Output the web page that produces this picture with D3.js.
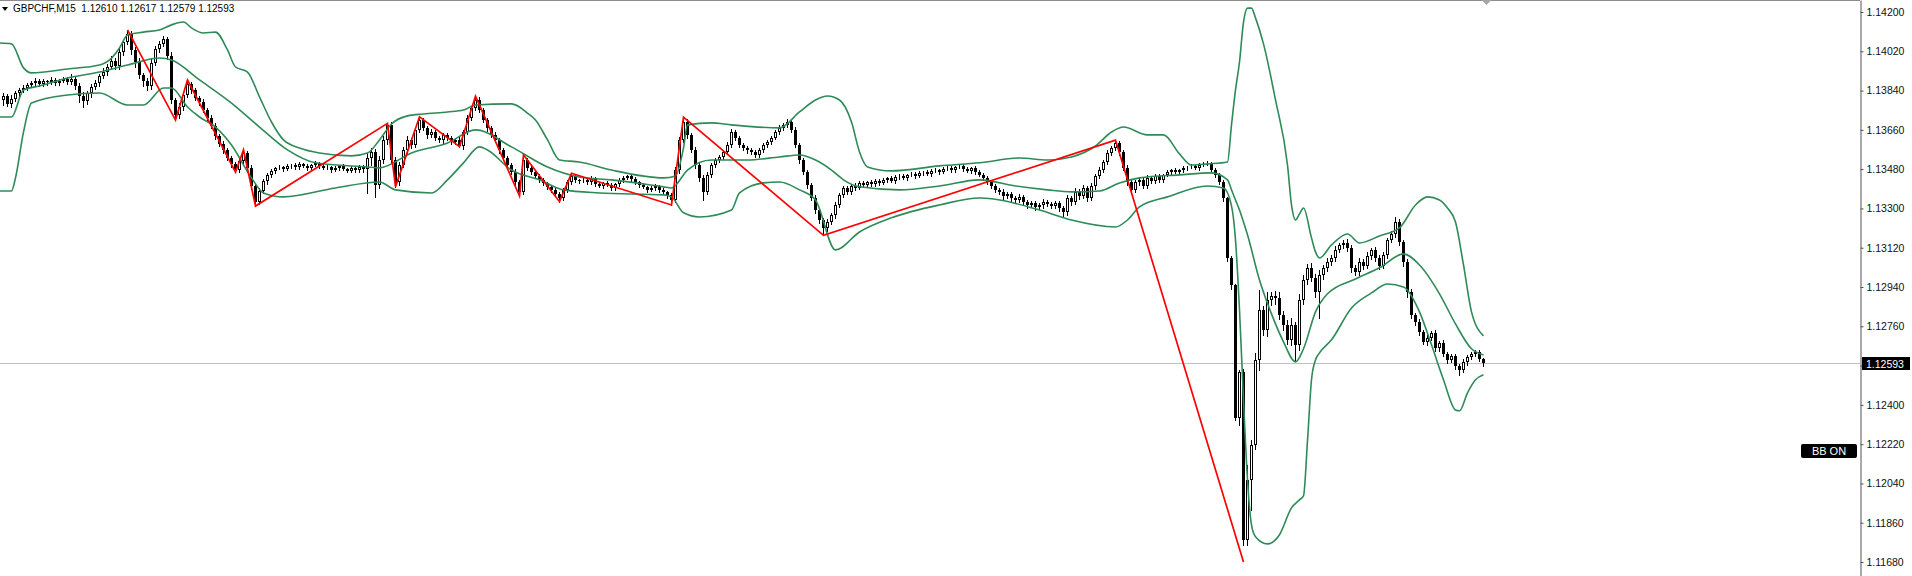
<!DOCTYPE html>
<html>
<head>
<meta charset="utf-8">
<script src="https://cdn.jsdelivr.net/npm/d3@7"></script>
<style>
  html, body { margin: 0; padding: 0; background: #fff; overflow: hidden; }
  svg { display: block; }
  text { font-family: 'Liberation Sans', Arial, sans-serif; }
</style>
</head>
<body>
<script>
// GBPCHF M15 candles, oldest first (open of a bar = close of the one before)
const symbolTitle = 'GBPCHF,M15'
const lastQuote = ['1.12610', '1.12617', '1.12579', '1.12593']
const firstOpen = 1.13790

const closes = [
  1.13797, 1.13815, 1.13779, 1.13802, 1.13829, 1.13843, 1.13852, 1.13866, 1.13875, 1.13884,
  1.13870, 1.13884, 1.13879, 1.13889, 1.13875, 1.13884, 1.13893, 1.13879, 1.13893, 1.13861,
  1.13815, 1.13792, 1.13829, 1.13857, 1.13875, 1.13907, 1.13925, 1.13948, 1.13976, 1.13953,
  1.14017, 1.14063, 1.14099, 1.14026, 1.13971, 1.13912, 1.13884, 1.13861, 1.13967, 1.14031,
  1.14054, 1.14076, 1.13999, 1.13797, 1.13728, 1.13765, 1.13820, 1.13870, 1.13843, 1.13806,
  1.13788, 1.13751, 1.13715, 1.13678, 1.13632, 1.13596, 1.13568, 1.13531, 1.13504, 1.13476,
  1.13518, 1.13554, 1.13486, 1.13403, 1.13330, 1.13380, 1.13426, 1.13454, 1.13472, 1.13486,
  1.13490, 1.13481, 1.13495, 1.13499, 1.13490, 1.13504, 1.13495, 1.13486, 1.13499, 1.13509,
  1.13495, 1.13486, 1.13490, 1.13476, 1.13486, 1.13495, 1.13481, 1.13472, 1.13486, 1.13476,
  1.13490, 1.13481, 1.13531, 1.13559, 1.13408, 1.13522, 1.13614, 1.13683, 1.13522, 1.13421,
  1.13499, 1.13568, 1.13614, 1.13591, 1.13660, 1.13705, 1.13669, 1.13637, 1.13650, 1.13623,
  1.13614, 1.13637, 1.13623, 1.13605, 1.13614, 1.13586, 1.13650, 1.13715, 1.13760, 1.13797,
  1.13751, 1.13705, 1.13669, 1.13637, 1.13614, 1.13568, 1.13531, 1.13499, 1.13467, 1.13421,
  1.13376, 1.13522, 1.13486, 1.13467, 1.13449, 1.13431, 1.13417, 1.13399, 1.13385, 1.13367,
  1.13348, 1.13385, 1.13421, 1.13449, 1.13431, 1.13426, 1.13431, 1.13421, 1.13440, 1.13412,
  1.13403, 1.13417, 1.13408, 1.13394, 1.13412, 1.13431, 1.13440, 1.13449, 1.13435, 1.13421,
  1.13408, 1.13399, 1.13385, 1.13394, 1.13403, 1.13385, 1.13376, 1.13362, 1.13339, 1.13476,
  1.13614, 1.13696, 1.13637, 1.13568, 1.13499, 1.13440, 1.13376, 1.13454, 1.13499, 1.13522,
  1.13536, 1.13559, 1.13591, 1.13650, 1.13623, 1.13591, 1.13577, 1.13568, 1.13559, 1.13545,
  1.13568, 1.13591, 1.13605, 1.13623, 1.13650, 1.13669, 1.13683, 1.13696, 1.13660, 1.13591,
  1.13522, 1.13467, 1.13408, 1.13348, 1.13293, 1.13247, 1.13211, 1.13238, 1.13270, 1.13316,
  1.13362, 1.13394, 1.13376, 1.13403, 1.13394, 1.13417, 1.13408, 1.13421, 1.13412, 1.13426,
  1.13417, 1.13431, 1.13440, 1.13426, 1.13444, 1.13449, 1.13440, 1.13454, 1.13458, 1.13449,
  1.13463, 1.13467, 1.13458, 1.13472, 1.13476, 1.13467, 1.13481, 1.13486, 1.13476, 1.13490,
  1.13495, 1.13481, 1.13472, 1.13486, 1.13467, 1.13454, 1.13440, 1.13421, 1.13403, 1.13385,
  1.13376, 1.13357, 1.13367, 1.13348, 1.13339, 1.13353, 1.13330, 1.13316, 1.13325, 1.13307,
  1.13316, 1.13330, 1.13321, 1.13312, 1.13325, 1.13302, 1.13284, 1.13348, 1.13330, 1.13376,
  1.13357, 1.13394, 1.13348, 1.13403, 1.13449, 1.13476, 1.13513, 1.13554, 1.13577, 1.13600,
  1.13559, 1.13486, 1.13421, 1.13385, 1.13421, 1.13431, 1.13403, 1.13440, 1.13426, 1.13449,
  1.13431, 1.13454, 1.13467, 1.13476, 1.13467, 1.13476, 1.13486, 1.13490, 1.13495, 1.13486,
  1.13499, 1.13504, 1.13509, 1.13476, 1.13454, 1.13421, 1.13348, 1.13073, 1.12950, 1.12341,
  1.12551, 1.11782, 1.12057, 1.12217, 1.12606, 1.12835, 1.12744, 1.12881, 1.12899, 1.12890,
  1.12812, 1.12767, 1.12698, 1.12767, 1.12675, 1.12881, 1.12973, 1.13028, 1.12982, 1.12918,
  1.12996, 1.13028, 1.13055, 1.13073, 1.13110, 1.13133, 1.13142, 1.13119, 1.13028, 1.13009,
  1.13055, 1.13037, 1.13083, 1.13110, 1.13073, 1.13037, 1.13087, 1.13156, 1.13183, 1.13238,
  1.13147, 1.13055, 1.12918, 1.12812, 1.12780, 1.12734, 1.12689, 1.12707, 1.12730, 1.12661,
  1.12684, 1.12634, 1.12606, 1.12625, 1.12579, 1.12560, 1.12597, 1.12620, 1.12634, 1.12643,
  1.12610, 1.12593
]

// wick lengths above / below the body, in pips
const wickUp = [
  1.2, 1.6, 0.8, 2.0, 1.1, 0.9, 1.4, 0.7, 1.0, 1.3,
  0.8, 1.1, 0.6, 1.2, 0.9, 0.7, 1.0, 0.8, 2.4, 1.0,
  1.3, 1.7, 0.9, 1.2, 1.5, 1.0, 1.8, 1.2, 2.2, 1.4,
  1.6, 1.1, 1.9, 1.5, 1.2, 1.8, 1.0, 1.3, 2.0, 1.4,
  1.2, 1.5, 1.0, 1.6, 0.9, 1.8, 1.2, 1.8, 1.1, 1.0,
  0.9, 1.3, 0.8, 1.1, 1.4, 0.7, 1.2, 0.9, 1.0, 0.8,
  1.1, 1.4, 0.9, 1.2, 0.8, 1.5, 1.0, 0.7, 0.9, 0.6,
  0.8, 0.6, 0.9, 0.5, 0.8, 0.7, 0.6, 0.9, 0.5, 0.8,
  0.6, 0.7, 0.9, 0.5, 0.8, 0.6, 0.7, 0.5, 0.9, 0.6,
  0.8, 1.0, 2.5, 1.8, 1.2, 2.0, 1.6, 0.7, 1.4, 1.2,
  1.5, 1.2, 1.8, 1.0, 1.3, 1.5, 1.1, 0.9, 1.2, 0.8,
  1.0, 0.7, 0.9, 1.1, 0.8, 1.2, 1.0, 1.4, 1.1, 1.8,
  1.2, 0.9, 1.0, 0.8, 1.1, 0.7, 0.9, 1.0, 0.8, 1.2,
  0.9, 2.3, 1.0, 0.8, 1.1, 0.7, 0.9, 0.6, 1.0, 0.8,
  0.7, 1.0, 0.9, 1.2, 0.8, 0.6, 0.9, 0.7, 1.0, 0.6,
  0.8, 0.5, 0.9, 0.7, 0.6, 1.0, 0.8, 0.6, 0.9, 0.7,
  0.5, 0.8, 0.6, 0.9, 0.7, 0.5, 0.8, 0.6, 1.0, 1.4,
  1.2, 2.2, 1.5, 1.0, 1.3, 0.9, 1.1, 1.4, 1.0, 0.8,
  1.0, 0.9, 1.2, 1.6, 1.0, 0.8, 1.1, 0.7, 0.9, 0.8,
  1.0, 0.7, 0.9, 1.1, 0.8, 1.2, 0.9, 1.6, 1.0, 1.2,
  0.9, 1.1, 0.8, 1.0, 1.2, 0.9, 1.1, 1.4, 1.0, 1.2,
  1.1, 0.9, 1.0, 0.8, 1.2, 0.7, 0.9, 0.6, 1.0, 0.8,
  0.7, 0.9, 0.6, 1.0, 0.8, 0.7, 0.9, 0.6, 0.8, 0.7,
  0.9, 0.6, 0.8, 0.7, 1.0, 0.6, 0.8, 0.9, 0.7, 0.6,
  0.8, 0.7, 0.9, 0.6, 0.8, 1.0, 0.7, 0.9, 0.8, 1.0,
  0.9, 1.1, 0.8, 1.0, 0.7, 1.2, 0.9, 0.8, 1.0, 0.7,
  0.9, 1.2, 0.8, 1.0, 0.9, 0.7, 1.1, 1.4, 1.0, 1.6,
  1.2, 1.5, 1.0, 1.3, 1.1, 1.4, 0.9, 1.2, 1.0, 1.3,
  1.1, 0.9, 1.2, 0.8, 1.0, 0.7, 0.9, 1.1, 0.8, 0.7,
  0.9, 0.6, 0.8, 0.7, 0.9, 0.6, 0.8, 0.5, 0.7, 0.6,
  0.8, 0.7, 0.9, 0.6, 0.8, 0.7, 1.0, 0.5, 0.8, 0.6,
  0.9, 1.5, 6.8, 2.2, 3.2, 9.1, 2.0, 3.5, 1.6, 2.2,
  2.5, 1.8, 2.0, 3.0, 1.5, 2.8, 2.0, 1.8, 2.4, 1.6,
  2.0, 1.5, 1.8, 1.2, 1.6, 1.0, 1.4, 1.8, 1.2, 1.5,
  1.8, 1.2, 1.6, 1.0, 1.4, 1.2, 1.5, 1.0, 1.3, 2.3,
  1.2, 1.0, 1.4, 1.1, 0.9, 1.2, 1.0, 1.5, 0.8, 1.1,
  0.9, 1.2, 0.8, 1.0, 0.7, 0.9, 1.1, 0.8, 1.0, 0.9,
  0.8, 0.7
]

const wickDown = [
  1.5, 2.2, 1.0, 1.4, 0.9, 1.2, 0.8, 1.1, 0.7, 1.3,
  1.0, 0.8, 1.2, 0.7, 1.0, 0.9, 0.6, 1.1, 0.8, 1.5,
  2.8, 2.5, 1.2, 1.8, 1.0, 1.4, 0.9, 1.3, 1.1, 1.6,
  1.2, 1.5, 1.0, 1.8, 2.2, 1.4, 2.5, 1.9, 1.2, 1.0,
  1.4, 1.1, 1.6, 1.3, 2.3, 1.5, 1.2, 0.9, 1.4, 1.1,
  1.2, 1.0, 1.5, 1.1, 1.3, 0.9, 1.2, 1.0, 1.4, 1.0,
  0.9, 1.2, 1.0, 1.3, 1.9, 1.1, 0.9, 1.2, 0.8, 1.0,
  0.7, 0.9, 0.6, 0.8, 0.7, 0.9, 0.6, 0.8, 0.7, 0.5,
  0.8, 0.6, 0.7, 0.9, 0.6, 0.8, 0.5, 0.7, 0.6, 0.8,
  0.7, 1.2, 11.0, 3.0, 5.6, 1.5, 1.2, 2.0, 1.6, 2.1,
  1.4, 1.0, 1.2, 1.5, 0.9, 1.1, 1.0, 1.3, 0.8, 1.1,
  0.9, 1.2, 0.8, 1.0, 1.1, 0.3, 1.2, 0.9, 1.0, 0.8,
  1.1, 0.9, 1.3, 1.0, 0.8, 1.2, 0.9, 1.1, 1.0, 1.3,
  1.9, 1.2, 0.9, 1.1, 0.8, 1.0, 0.9, 1.2, 0.8, 1.1,
  1.7, 1.0, 0.8, 1.1, 0.9, 1.0, 0.7, 0.9, 0.8, 1.0,
  0.7, 0.9, 0.6, 0.8, 1.0, 0.7, 0.9, 0.6, 0.8, 0.7,
  0.9, 0.6, 0.8, 0.7, 1.0, 0.8, 0.9, 1.2, 2.3, 1.0,
  1.2, 0.9, 1.4, 1.1, 1.3, 1.6, 3.7, 1.2, 1.0, 1.1,
  0.8, 1.0, 0.9, 1.1, 0.8, 1.0, 0.9, 1.2, 0.8, 1.0,
  0.9, 1.1, 0.8, 1.0, 0.7, 0.9, 0.8, 1.0, 1.1, 0.9,
  1.2, 1.0, 1.3, 1.1, 1.4, 1.2, 3.4, 1.3, 1.0, 1.2,
  0.9, 1.1, 0.8, 1.0, 0.9, 0.7, 1.0, 0.8, 0.9, 0.7,
  0.8, 0.6, 0.9, 0.7, 0.8, 1.0, 0.6, 0.8, 0.7, 0.9,
  0.7, 0.8, 0.6, 0.9, 0.7, 0.8, 0.6, 0.7, 0.9, 0.8,
  0.6, 0.8, 0.7, 0.9, 0.8, 0.7, 1.0, 0.8, 1.1, 0.9,
  1.0, 1.3, 0.9, 1.4, 1.1, 0.8, 1.2, 1.5, 1.0, 1.3,
  1.1, 1.6, 0.9, 1.2, 1.0, 1.4, 2.3, 1.2, 1.5, 1.0,
  1.3, 1.1, 1.4, 0.9, 1.2, 1.0, 0.8, 1.1, 0.9, 1.0,
  1.2, 1.0, 1.4, 1.1, 0.9, 1.2, 1.0, 0.8, 1.1, 0.9,
  0.8, 0.9, 0.7, 0.8, 0.6, 0.9, 0.7, 0.8, 0.6, 0.7,
  0.8, 0.6, 0.7, 0.9, 1.0, 0.8, 1.2, 1.5, 2.0, 1.0,
  3.3, 2.4, 2.4, 13.8, 1.7, 4.6, 2.5, 3.0, 2.2, 2.8,
  2.0, 2.6, 1.8, 2.4, 7.0, 2.2, 1.8, 2.0, 1.6, 2.5,
  12.0, 1.8, 1.5, 1.2, 1.6, 1.0, 1.4, 1.2, 1.8, 1.5,
  1.2, 1.6, 1.0, 1.4, 1.2, 1.5, 1.1, 1.3, 1.0, 1.2,
  1.4, 1.8, 2.5, 1.5, 1.2, 1.6, 1.0, 1.3, 1.1, 1.4,
  1.2, 1.0, 1.5, 1.1, 1.3, 2.3, 1.0, 1.2, 0.9, 1.1,
  1.0, 1.4
]

// Bollinger bands: [bar, price]
const upperBand = [
  [0, 1.14058], [3, 1.14054], [6, 1.13944], [8, 1.13921], [17, 1.13939], [25, 1.13957],
  [28, 1.13989], [30, 1.14035], [32, 1.14095], [36, 1.14108], [40, 1.14118], [43, 1.14141],
  [46, 1.14154], [48, 1.14127], [51, 1.14104], [54, 1.14108], [57, 1.14026], [59, 1.13948],
  [62, 1.13925], [65, 1.13811], [68, 1.13696], [71, 1.13614], [75, 1.13577], [80, 1.13554],
  [88, 1.13541], [92, 1.13554], [95, 1.13614], [98, 1.13687], [102, 1.13724], [106, 1.13733],
  [112, 1.13742], [116, 1.13751], [119, 1.13774], [128, 1.13779], [132, 1.13737], [134, 1.13705],
  [137, 1.13614], [140, 1.13522], [145, 1.13513], [153, 1.13476], [166, 1.13440], [169, 1.13449],
  [171, 1.13577], [172, 1.13683], [178, 1.13692], [183, 1.13683], [195, 1.13669], [200, 1.13742],
  [204, 1.13797], [207, 1.13815], [210, 1.13797], [213, 1.13696], [215, 1.13559], [217, 1.13490],
  [223, 1.13472], [235, 1.13495], [245, 1.13509], [255, 1.13531], [262, 1.13522], [268, 1.13536],
  [274, 1.13586], [278, 1.13650], [281, 1.13673], [287, 1.13637],
  [291, 1.13637], [295, 1.13550], [298, 1.13499], [302, 1.13504], [307, 1.13513], [308, 1.13683],
  [309, 1.13843], [310, 1.13971], [311, 1.14154], [312, 1.14218], [313, 1.14218], [314, 1.14173],
  [316, 1.14054], [319, 1.13797], [322, 1.13499], [323, 1.13316], [324, 1.13247], [325, 1.13275],
  [326, 1.13302], [328, 1.13165], [329, 1.13101], [330, 1.13073], [333, 1.13133], [337, 1.13183],
  [340, 1.13142], [345, 1.13174], [350, 1.13211], [354, 1.13316], [357, 1.13353], [360, 1.13339],
  [362, 1.13302], [364, 1.13238], [366, 1.13041], [368, 1.12826], [371, 1.12716]
]

const middleBand = [
  [0, 1.13719], [3, 1.13719], [6, 1.13843], [10, 1.13861], [17, 1.13898], [25, 1.13925],
  [32, 1.13957], [40, 1.13989], [43, 1.13980], [50, 1.13889], [58, 1.13783], [65, 1.13673],
  [72, 1.13568], [79, 1.13509], [92, 1.13490], [95, 1.13486], [103, 1.13554], [112, 1.13600],
  [119, 1.13660], [128, 1.13582], [137, 1.13490], [145, 1.13444], [153, 1.13431], [166, 1.13399],
  [168, 1.13394], [172, 1.13476], [178, 1.13522], [187, 1.13522], [195, 1.13536], [200, 1.13545],
  [204, 1.13522], [208, 1.13476], [211, 1.13431], [215, 1.13399], [225, 1.13385], [235, 1.13403],
  [245, 1.13431], [254, 1.13403], [262, 1.13385], [268, 1.13376], [275, 1.13380], [280, 1.13417],
  [285, 1.13440], [295, 1.13454], [303, 1.13463], [307, 1.13431], [308, 1.13385], [309, 1.13339],
  [310, 1.13293], [311, 1.13238], [312, 1.13179], [315, 1.12972], [318, 1.12817], [321, 1.12689],
  [324, 1.12597], [326, 1.12657], [329, 1.12826], [332, 1.12909], [339, 1.12977], [345, 1.13028],
  [351, 1.13092], [355, 1.13041], [360, 1.12909], [364, 1.12771], [368, 1.12657], [371, 1.12629]
]

const lowerBand = [
  [0, 1.13380], [3, 1.13380], [4, 1.13440], [6, 1.13650], [8, 1.13783], [17, 1.13820],
  [25, 1.13829], [32, 1.13774], [36, 1.13774], [41, 1.13852], [43, 1.13852], [47, 1.13765],
  [50, 1.13719], [54, 1.13673], [58, 1.13591], [63, 1.13440], [66, 1.13371], [71, 1.13353],
  [84, 1.13394], [95, 1.13421], [99, 1.13385], [108, 1.13371], [112, 1.13431], [116, 1.13509],
  [120, 1.13582], [122, 1.13568], [128, 1.13476], [135, 1.13431], [141, 1.13385], [150, 1.13371],
  [166, 1.13362], [168, 1.13353], [171, 1.13280], [175, 1.13261], [183, 1.13293], [185, 1.13371],
  [191, 1.13417], [195, 1.13421], [200, 1.13385], [204, 1.13339], [209, 1.13110], [215, 1.13192],
  [223, 1.13257], [235, 1.13316], [245, 1.13348], [260, 1.13293], [268, 1.13247], [279, 1.13215],
  [282, 1.13247], [285, 1.13307], [292, 1.13353], [302, 1.13403], [306, 1.13394], [308, 1.13312],
  [309, 1.13156], [310, 1.12835], [311, 1.12423], [312, 1.12057], [313, 1.11850], [314, 1.11796],
  [317, 1.11763], [320, 1.11805], [323, 1.11928], [325, 1.11965], [326, 1.11983], [327, 1.12235],
  [328, 1.12515], [329, 1.12606], [330, 1.12638], [333, 1.12698], [338, 1.12844], [343, 1.12913],
  [347, 1.12954], [351, 1.12940], [355, 1.12826], [358, 1.12675], [361, 1.12515], [364, 1.12377],
  [365, 1.12373], [367, 1.12455], [369, 1.12515], [371, 1.12538]
]

// ZigZag swing points
const zigzagBars = [32, 44, 47, 59, 61, 64, 97, 99, 105, 115, 119, 130, 131, 140, 143, 168, 171, 206, 279, 311]
const zigzagPrices = [1.14118, 1.13705, 1.13888, 1.13466, 1.13568, 1.13311, 1.13690, 1.13400, 1.13720, 1.13583,
  1.13815, 1.13357, 1.13545, 1.13331, 1.13461, 1.13316, 1.13718, 1.13177, 1.13613, 1.11680]

const priceTicks = [1.14200, 1.14020, 1.13840, 1.13660, 1.13480, 1.13300, 1.13120, 1.12940,
  1.12760, 1.12580, 1.12400, 1.12220, 1.12040, 1.11860, 1.11680]

const width = 1912
const height = 576
const plotRight = 1860

const svg = d3.select('body').append('svg')
  .attr('width', width)
  .attr('height', height)

const x = d3.scaleLinear().domain([0, 371]).range([-0.5, 1483.5])
const y = d3.scaleLinear().domain([1.11616, 1.14255]).range([height, 0])

const bars = closes.map((c, i) => {
  const o = i ? closes[i - 1] : firstOpen
  return {
    i, o, c,
    h: Math.max(o, c) + wickUp[i] / 1e4,
    l: Math.min(o, c) - wickDown[i] / 1e4
  }
})
const last = bars[bars.length - 1]

// top frame line
svg.append('line')
  .attr('x1', 0).attr('x2', plotRight)
  .attr('y1', 0.5).attr('y2', 0.5)
  .attr('stroke', '#8c8c8c')
  .attr('shape-rendering', 'crispEdges')

// bid line
svg.append('line')
  .attr('x1', 0).attr('x2', plotRight)
  .attr('y1', Math.round(y(last.c)) + 0.5).attr('y2', Math.round(y(last.c)) + 0.5)
  .attr('stroke', '#c0c0c0')
  .attr('shape-rendering', 'crispEdges')

// candles
const candles = svg.append('g').attr('shape-rendering', 'crispEdges')

candles.selectAll('.wick')
  .data(bars)
  .join('line')
  .classed('wick', true)
  .attr('x1', d => x(d.i)).attr('x2', d => x(d.i))
  .attr('y1', d => Math.round(y(d.h)))
  .attr('y2', d => Math.round(y(d.l)) + 1)
  .attr('stroke', '#000')

candles.selectAll('.bear')
  .data(bars.filter(d => d.c <= d.o))
  .join('rect')
  .classed('bear', true)
  .attr('x', d => x(d.i) - 1.5)
  .attr('width', 3)
  .attr('y', d => Math.round(y(d.o)))
  .attr('height', d => Math.max(1, Math.round(y(d.c)) - Math.round(y(d.o))))
  .attr('fill', '#000')

candles.selectAll('.bull')
  .data(bars.filter(d => d.c > d.o))
  .join('rect')
  .classed('bull', true)
  .attr('x', d => x(d.i) - 1)
  .attr('width', 2)
  .attr('y', d => Math.round(y(d.c)) + 0.5)
  .attr('height', d => Math.max(0, Math.round(y(d.o)) - Math.round(y(d.c)) - 1))
  .attr('fill', '#fff')
  .attr('stroke', '#000')

// bollinger bands
const bandLine = d3.line()
  .x(d => x(d[0]))
  .y(d => y(d[1]))
  .curve(d3.curveMonotoneX)

svg.append('g')
  .selectAll('path')
  .data([upperBand, middleBand, lowerBand])
  .join('path')
  .attr('d', bandLine)
  .attr('fill', 'none')
  .attr('stroke', '#2e8b57')
  .attr('stroke-width', 1.6)

// zigzag
svg.append('path')
  .datum(zigzagBars.map((b, k) => [b, zigzagPrices[k]]))
  .attr('d', d3.line().x(d => x(d[0])).y(d => y(d[1])))
  .attr('fill', 'none')
  .attr('stroke', '#ff0000')
  .attr('stroke-width', 1.7)

// price axis
const axis = svg.append('g')
  .attr('transform', `translate(${plotRight + 0.5},0)`)
  .call(d3.axisRight(y)
    .tickValues(priceTicks)
    .tickFormat(d3.format('.5f'))
    .tickSize(3)
    .tickSizeOuter(0))
axis.select('.domain').attr('stroke', '#555')
axis.selectAll('.tick line').attr('stroke', '#555')
axis.selectAll('.tick text')
  .attr('x', 6)
  .attr('fill', '#111')
  .style('font-size', '10.5px')
  .style('font-family', "'Liberation Sans', Arial, sans-serif")

// current price tag
const tag = svg.append('g').attr('transform', `translate(${plotRight + 2},${Math.round(y(last.c)) + 0.5})`)
tag.append('rect')
  .attr('x', 0).attr('y', -6.5)
  .attr('width', 48).attr('height', 13)
  .attr('fill', '#000')
tag.append('text')
  .attr('x', 4).attr('y', 4)
  .attr('fill', '#fff')
  .style('font-size', '10.5px')
  .text(last.c.toFixed(5))

// header
svg.append('path')
  .attr('d', 'M2,7 L8,7 L5,11 Z')
  .attr('fill', '#000')
svg.append('text')
  .attr('x', 13).attr('y', 12)
  .attr('fill', '#000')
  .style('font-size', '10px')
  .style('white-space', 'pre')
  .text(symbolTitle + '  ' + lastQuote.join(' '))

// chart shift marker
svg.append('path')
  .attr('d', `M${x(371) - 2},0 L${x(371) + 8},0 L${x(371) + 3},5 Z`)
  .attr('fill', '#a6a6a6')

// BB ON button
const bb = svg.append('g').attr('transform', 'translate(1801,444)')
bb.append('rect')
  .attr('width', 56).attr('height', 14).attr('rx', 2)
  .attr('fill', '#000')
bb.append('text')
  .attr('x', 28).attr('y', 11)
  .attr('text-anchor', 'middle')
  .attr('fill', '#fff')
  .style('font-size', '11px')
  .text('BB ON')
</script>
</body>
</html>
